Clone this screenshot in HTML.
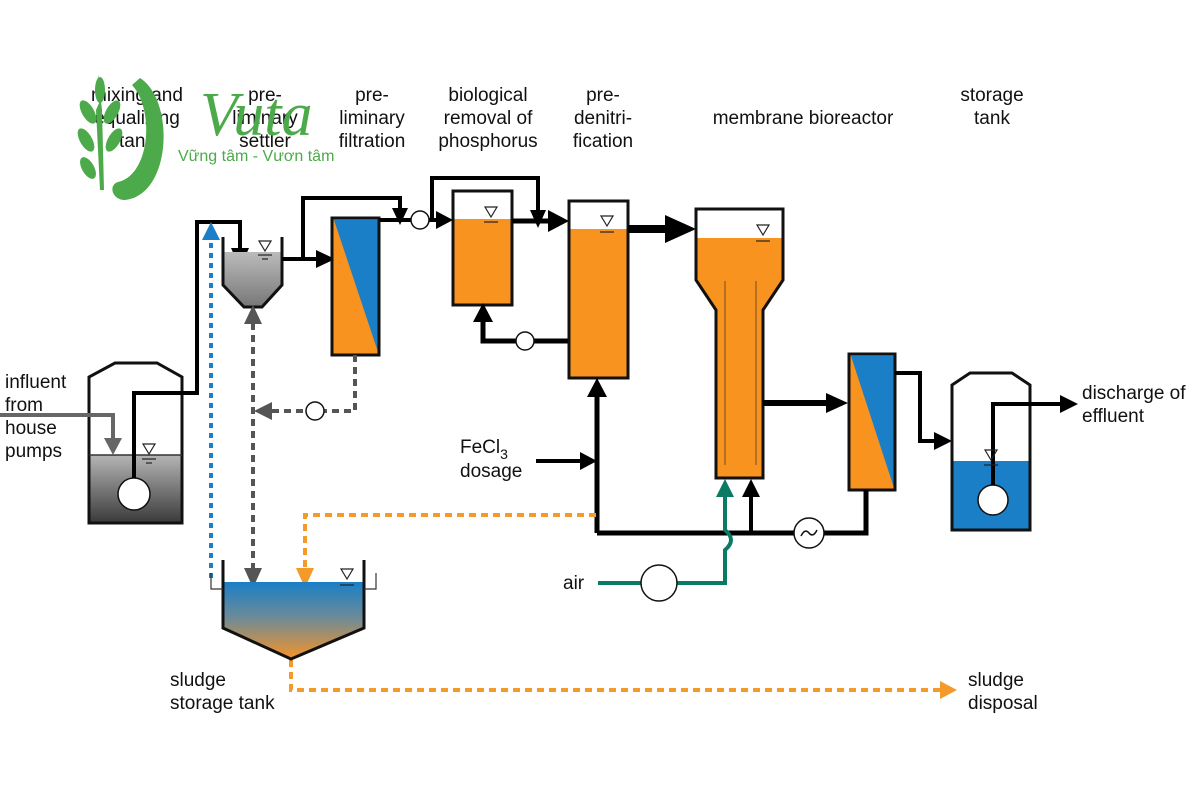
<!DOCTYPE html>
<html><head><meta charset="utf-8"><style>
html,body{margin:0;padding:0;background:#fff;}
svg{display:block;}
text{font-family:"Liberation Sans","DejaVu Sans",sans-serif;font-size:19px;fill:#111;}
</style></head><body>
<svg width="1201" height="800" viewBox="0 0 1201 800" xmlns="http://www.w3.org/2000/svg">
<defs>
<linearGradient id="gr" x1="0" y1="0" x2="0" y2="1"><stop offset="0" stop-color="#b5b5b5"/><stop offset="1" stop-color="#3a3a3a"/></linearGradient>
<linearGradient id="gs" x1="0" y1="0" x2="0" y2="1"><stop offset="0" stop-color="#bbb"/><stop offset="1" stop-color="#777"/></linearGradient>
<linearGradient id="sl" x1="0" y1="0" x2="0" y2="1"><stop offset="0" stop-color="#1a7fc6"/><stop offset="0.45" stop-color="#6a8a9a"/><stop offset="1" stop-color="#f5942a"/></linearGradient>
</defs>

<!-- top labels -->
<g text-anchor="middle">
<text x="137" y="101">mixing and</text><text x="137" y="124">equalizing</text><text x="137" y="147">tank</text>
<text x="265" y="101">pre-</text><text x="265" y="124">liminary</text><text x="265" y="147">settler</text>
<text x="372" y="101">pre-</text><text x="372" y="124">liminary</text><text x="372" y="147">filtration</text>
<text x="488" y="101">biological</text><text x="488" y="124">removal of</text><text x="488" y="147">phosphorus</text>
<text x="603" y="101">pre-</text><text x="603" y="124">denitri-</text><text x="603" y="147">fication</text>
<text x="803" y="124">membrane bioreactor</text>
<text x="992" y="101">storage</text><text x="992" y="124">tank</text>
</g>

<!-- logo -->
<g fill="#4caa4a">
<path d="M140,78 C175,100 172,195 125,200 C112,200 108,185 118,182 C150,175 155,110 132,85 Z"/>
<path d="M98,75 L104,92 L96,110 L100,190 L104,190 L102,110 Z"/>
<ellipse cx="88" cy="112" rx="6" ry="13" transform="rotate(-30 88 112)"/>
<ellipse cx="112" cy="112" rx="6" ry="13" transform="rotate(30 112 112)"/>
<ellipse cx="86" cy="140" rx="6" ry="13" transform="rotate(-30 86 140)"/>
<ellipse cx="114" cy="140" rx="6" ry="13" transform="rotate(30 114 140)"/>
<ellipse cx="88" cy="168" rx="6" ry="12" transform="rotate(-30 88 168)"/>
<ellipse cx="100" cy="90" rx="5" ry="13"/>
</g>
<text x="200" y="135" style="font-family:'Liberation Serif',serif;font-style:italic;font-size:62px;fill:#4caa4a">Vuta</text>
<text x="178" y="161" style="font-size:16px;fill:#4caa4a">Vững tâm - Vươn tâm</text>

<!-- mixing tank -->
<rect x="89" y="455" width="93" height="68" fill="url(#gr)"/>
<path d="M89,523 V377 L115,363 H157 L182,377 V523 Z" fill="none" stroke="#111" stroke-width="3"/>
<line x1="89" y1="455" x2="182" y2="455" stroke="#333" stroke-width="1.5"/>
<circle cx="134" cy="494" r="16" fill="#fff" stroke="#111" stroke-width="1.5"/>
<path d="M0,415 H113 V440" fill="none" stroke="#666" stroke-width="4"/>
<polygon points="104,438 122,438 113,455" fill="#666"/>
<path d="M134,478 V393 H197 V222 H240 V250" fill="none" stroke="#000" stroke-width="4"/>
<polygon points="231,248 249,248 240,268" fill="#000"/>

<!-- settler -->
<path d="M223,252 H282 V285 L262,307 H244 L223,285 Z" fill="url(#gs)"/>
<path d="M223,237 V285 L244,307 L262,307 L282,285 V237" fill="none" stroke="#111" stroke-width="3"/>
<path d="M282,259 H318" stroke="#000" stroke-width="4"/>
<polygon points="316,250 335,259 316,268" fill="#000"/>
<path d="M303,259 V198 H400 V210" fill="none" stroke="#000" stroke-width="4"/>
<polygon points="392,208 408,208 400,225" fill="#000"/>

<!-- filter 1 -->
<rect x="332" y="218" width="47" height="137" fill="#f7931e"/>
<polygon points="334,220 378,220 378,352" fill="#1a7fc6"/>
<rect x="332" y="218" width="47" height="137" fill="none" stroke="#111" stroke-width="3"/>
<path d="M379,220 H440" stroke="#000" stroke-width="4"/>
<circle cx="420" cy="220" r="9" fill="#fff" stroke="#111" stroke-width="1.5"/>
<polygon points="436,211 453,220 436,229" fill="#000"/>

<!-- bio P tank -->
<rect x="453" y="219" width="59" height="86" fill="#f7931e"/>
<rect x="453" y="191" width="59" height="114" fill="none" stroke="#111" stroke-width="3"/>
<path d="M432,220 V178 H538 V212" fill="none" stroke="#000" stroke-width="4"/>
<polygon points="530,210 546,210 538,228" fill="#000"/>
<path d="M512,221 H552" stroke="#000" stroke-width="5"/>
<polygon points="548,210 569,221 548,232" fill="#000"/>
<path d="M569,341 H483 V320" fill="none" stroke="#000" stroke-width="5"/>
<circle cx="525" cy="341" r="9" fill="#fff" stroke="#111" stroke-width="1.5"/>
<polygon points="473,322 493,322 483,303" fill="#000"/>

<!-- pre-denit -->
<rect x="569" y="229" width="59" height="149" fill="#f7931e"/>
<rect x="569" y="201" width="59" height="177" fill="none" stroke="#111" stroke-width="3"/>
<path d="M628,229 H670" stroke="#000" stroke-width="8"/>
<polygon points="665,215 696,229 665,243" fill="#000"/>
<path d="M597,533 V395" stroke="#000" stroke-width="5"/>
<polygon points="587,397 607,397 597,378" fill="#000"/>
<path d="M536,461 H582" stroke="#000" stroke-width="4"/>
<polygon points="580,452 597,461 580,470" fill="#000"/>

<!-- MBR -->
<path d="M696,238 H783 V280 L763,310 V478 H716 V310 L696,280 Z" fill="#f7931e"/>
<path d="M696,209 H783 V280 L763,310 V478 H716 V310 L696,280 Z" fill="none" stroke="#111" stroke-width="3"/>
<line x1="725" y1="281" x2="725" y2="465" stroke="#8a5a20" stroke-width="1.2"/>
<line x1="756" y1="281" x2="756" y2="465" stroke="#8a5a20" stroke-width="1.2"/>
<path d="M763,403 H830" stroke="#000" stroke-width="6"/>
<polygon points="826,393 848,403 826,413" fill="#000"/>

<!-- filter 2 -->
<rect x="849" y="354" width="46" height="136" fill="#f7931e"/>
<polygon points="851,356 894,356 894,488" fill="#1a7fc6"/>
<rect x="849" y="354" width="46" height="136" fill="none" stroke="#111" stroke-width="3"/>
<path d="M895,373 H920 V441 H936" fill="none" stroke="#000" stroke-width="4"/>
<polygon points="934,432 952,441 934,450" fill="#000"/>

<!-- storage tank -->
<rect x="952" y="461" width="78" height="69" fill="#1a7fc6"/>
<path d="M952,530 V385 L970,373 H1012 L1030,385 V530 Z" fill="none" stroke="#111" stroke-width="3"/>
<circle cx="993" cy="500" r="15" fill="#fff" stroke="#111" stroke-width="1.5"/>
<path d="M993,485 V404 H1062" fill="none" stroke="#000" stroke-width="4"/>
<polygon points="1060,395 1078,404 1060,413" fill="#000"/>
<text x="1082" y="399">discharge of</text><text x="1082" y="422">effluent</text>

<!-- bottom return line -->
<path d="M597,533 H866 V490" fill="none" stroke="#000" stroke-width="5"/>
<circle cx="809" cy="533" r="15" fill="#fff" stroke="#111" stroke-width="1.5"/>
<path d="M801,536 q4,-8 8,-3 q4,5 8,-3" fill="none" stroke="#111" stroke-width="1.5"/>
<path d="M751,533 V495" stroke="#000" stroke-width="4"/>
<polygon points="742,497 760,497 751,479" fill="#000"/>

<!-- air -->
<path d="M598,583 H725 V550 q12,-10 0,-20 V495" fill="none" stroke="#0a7a64" stroke-width="4"/>
<circle cx="659" cy="583" r="18" fill="#fff" stroke="#111" stroke-width="1.5"/>
<polygon points="716,497 734,497 725,479" fill="#0a7a64"/>
<text x="563" y="589">air</text>

<!-- dotted lines -->
<path d="M596,515 H305 V570" fill="none" stroke="#f39a2a" stroke-width="4" stroke-dasharray="7,5"/>
<polygon points="296,568 314,568 305,588" fill="#f39a2a"/>
<path d="M291,660 V690 H942" fill="none" stroke="#f39a2a" stroke-width="4" stroke-dasharray="7,5"/>
<polygon points="940,681 957,690 940,699" fill="#f39a2a"/>
<path d="M211,578 V238" fill="none" stroke="#1a7fc6" stroke-width="4" stroke-dasharray="5,5"/>
<polygon points="202,240 220,240 211,222" fill="#1a7fc6"/>
<path d="M253,570 V322" fill="none" stroke="#555" stroke-width="4" stroke-dasharray="7,5"/>
<polygon points="244,568 262,568 253,588" fill="#555"/>
<polygon points="244,324 262,324 253,305" fill="#555"/>
<path d="M355,355 V411 H270" fill="none" stroke="#555" stroke-width="4" stroke-dasharray="7,5"/>
<circle cx="315" cy="411" r="9" fill="#fff" stroke="#111" stroke-width="1.5"/>
<polygon points="272,402 272,420 254,411" fill="#555"/>

<!-- sludge tank -->
<path d="M223,582 H364 V628 L291,659 L223,628 Z" fill="url(#sl)"/>
<path d="M223,560 V628 L291,659 L364,628 V560" fill="none" stroke="#111" stroke-width="3"/>
<path d="M211,573 V589 H223 M364,589 H376 V573" fill="none" stroke="#333" stroke-width="1.2"/>

<!-- level marks -->
<g fill="none" stroke="#222" stroke-width="1.2">
<path d="M143,444 L155,444 L149,454 Z"/><path d="M259,241 L271,241 L265,251 Z"/>
<path d="M485,207 L497,207 L491,217 Z"/><path d="M601,216 L613,216 L607,226 Z"/>
<path d="M757,225 L769,225 L763,235 Z"/><path d="M985,450 L997,450 L991,460 Z"/>
<path d="M341,569 L353,569 L347,579 Z"/>
</g>
<g stroke="#222" stroke-width="1.2">
<line x1="142" y1="459" x2="156" y2="459"/><line x1="146" y1="463" x2="152" y2="463"/>
<line x1="258" y1="255" x2="272" y2="255"/><line x1="262" y1="259" x2="268" y2="259"/>
<line x1="484" y1="222" x2="498" y2="222"/><line x1="600" y1="232" x2="614" y2="232"/>
<line x1="756" y1="241" x2="770" y2="241"/><line x1="984" y1="465" x2="998" y2="465"/>
<line x1="340" y1="585" x2="354" y2="585"/>
</g>

<!-- labels -->
<text x="5" y="388">influent</text><text x="5" y="411">from</text><text x="5" y="434">house</text><text x="5" y="457">pumps</text>
<text x="460" y="453">FeCl<tspan dy="6" font-size="14">3</tspan></text><text x="460" y="477">dosage</text>
<text x="170" y="686">sludge</text><text x="170" y="709">storage tank</text>
<text x="968" y="686">sludge</text><text x="968" y="709">disposal</text>
</svg>
</body></html>
